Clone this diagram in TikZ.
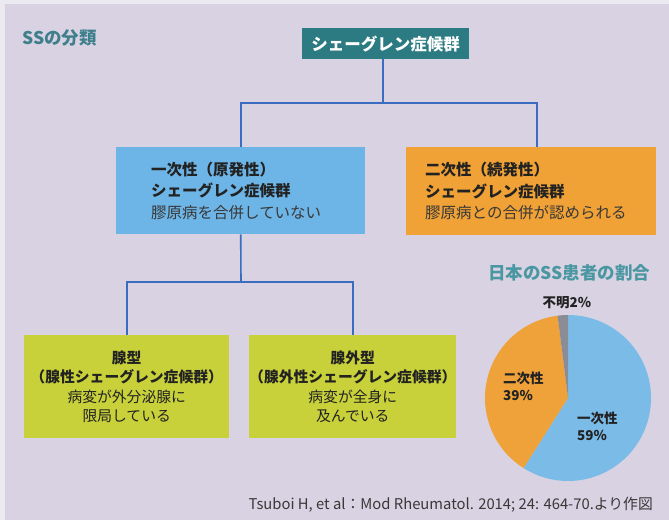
\documentclass[tikz,border=0pt]{standalone}
\usepackage{fontspec}
\setmainfont{Noto Sans CJK JP}
\definecolor{bgcol}{HTML}{D8D2E2}
\definecolor{edgecol}{HTML}{ECEAF1}
\definecolor{topcol}{HTML}{2C7A82}
\definecolor{bluecol}{HTML}{6DB5E6}
\definecolor{orangecol}{HTML}{F0A236}
\definecolor{yellowcol}{HTML}{C8D13A}
\definecolor{linecol}{HTML}{3A6CC0}
\definecolor{titlecol}{HTML}{3F7F8C}
\definecolor{pietitle}{HTML}{4A97A2}
\definecolor{pieblue}{HTML}{7BBBE8}
\definecolor{pieorange}{HTML}{F0A23A}
\definecolor{piegray}{HTML}{8A8C96}
\definecolor{txt}{HTML}{222222}
\definecolor{txtlight}{HTML}{383838}
\begin{document}
\begin{tikzpicture}[x=1pt,y=-1pt,
  conn/.style={draw=linecol,line width=1.6pt},
  topbox/.style={fill=topcol,text=white,font=\fontsize{16.5}{20}\selectfont\bfseries,minimum width=167pt,minimum height=31pt,inner sep=0pt},
  midbox/.style={font=\fontsize{15.5}{21.5}\selectfont,text=txt,align=left,minimum height=87pt,inner ysep=0pt},
  lowbox/.style={fill=yellowcol,font=\fontsize{14.8}{19.2}\selectfont,text=txt,align=center,minimum width=205pt,minimum height=103pt,inner sep=0pt},
  pielabel/.style={font=\fontsize{13.5}{17}\selectfont\bfseries,text=txt,align=left,inner sep=0pt}]
\useasboundingbox (0,0) rectangle (669,520);
\fill[edgecol] (0,0) rectangle (669,520);
\fill[bgcol] (5,4) rectangle (669,520);
% title
\node[anchor=west,text=titlecol,font=\fontsize{17.5}{20}\selectfont\bfseries,inner sep=0pt] (ttl) at (22,38) {SSの分類};
% boxes
\node[topbox,anchor=north west] (top) at (302,28) {シェーグレン症候群};
\node[midbox,fill=bluecol,anchor=north west,text width=179pt,inner xsep=35pt] (prim) at (116,147)
  {{\bfseries 一次性（原発性）}\\ {\bfseries シェーグレン症候群}\\ {\color{txtlight}膠原病を合併していない}};
\node[midbox,fill=orangecol,anchor=north west,text width=212pt,inner xsep=19pt,minimum height=88pt] (sec) at (406,147)
  {{\bfseries 二次性（続発性）}\\ {\bfseries シェーグレン症候群}\\ {\color{txtlight}膠原病との合併が認められる}};
\node[lowbox,anchor=north west] (gl) at (24,335)
  {{\bfseries 腺型}\\ {\bfseries （腺性シェーグレン症候群）}\\ 病変が外分泌腺に\\ 限局している};
\node[lowbox,anchor=north west,minimum width=206pt] (egl) at (249,335)
  {{\bfseries 腺外型}\\ {\bfseries （腺外性シェーグレン症候群）}\\ 病変が全身に\\ 及んでいる};
% connectors
\coordinate (j1) at (383,103);
\coordinate (j2) at (241,282);
\draw[conn] (top.south -| j1) -- (j1);
\draw[conn] (prim.north) |- (j1) -| ([xshift=6pt]sec.north);
\draw[conn] (prim.south) -- (j2);
\draw[conn] (gl.north) |- (j2) -| (egl.north);
% pie
\node[anchor=center,text=pietitle,font=\fontsize{17.5}{20}\selectfont\bfseries,inner sep=0pt] (pt) at (569,273) {日本のSS患者の割合};
\begin{scope}[shift={(568,398)},x=1pt,y=1pt]
  \fill[pieblue] (0,0) -- (90:83pt) arc[start angle=90,end angle=-122.4,radius=83pt] -- cycle;
  \fill[pieorange] (0,0) -- (-122.4:83pt) arc[start angle=-122.4,end angle=-262.8,radius=83pt] -- cycle;
  \fill[piegray] (0,0) -- (97.2:83pt) arc[start angle=97.2,end angle=90,radius=83pt] -- cycle;
\end{scope}
\node[pielabel,anchor=center] (lu) at (567,303) {不明2\%};
\node[pielabel,anchor=west] (l2) at (503,386) {二次性\\39\%};
\node[pielabel,anchor=west] (l1) at (577,426) {一次性\\59\%};
% footnote
\node[anchor=east,text=txtlight,font=\fontsize{14.8}{16}\selectfont,inner sep=0pt] (fn) at (653,505) {Tsuboi H, et al：Mod Rheumatol. 2014; 24: 464-70.より作図};
\end{tikzpicture}
\end{document}
